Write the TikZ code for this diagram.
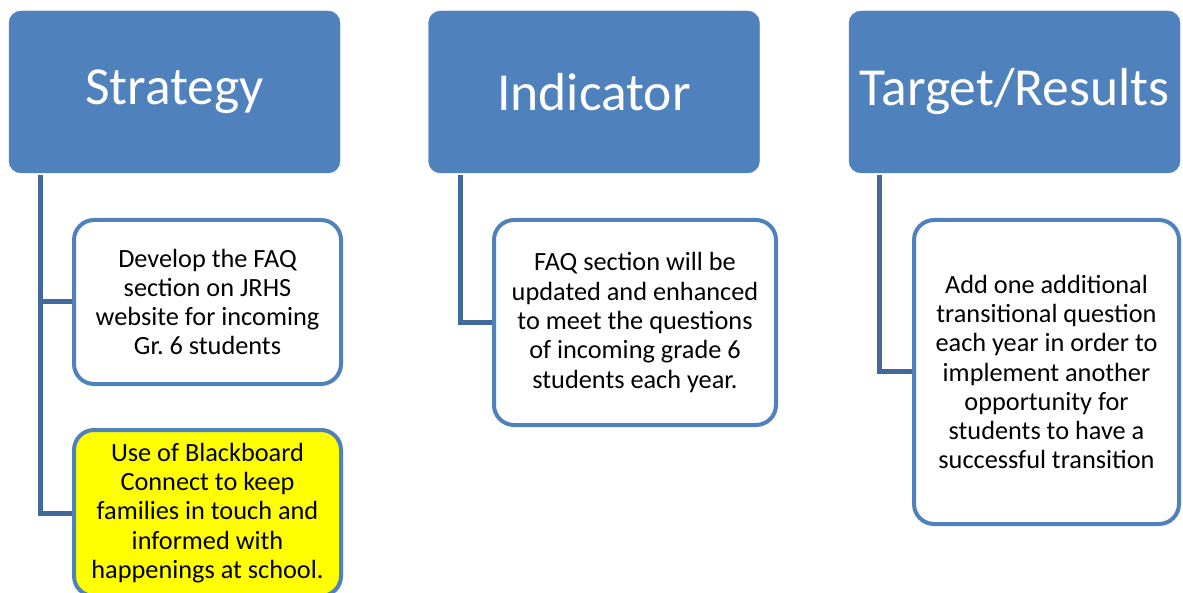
\documentclass[tikz,border=0pt]{standalone}
\usepackage{fontspec}
\setmainfont{Carlito}
\usetikzlibrary{calc}
\frenchspacing
\begin{document}
\begin{tikzpicture}[x=1pt,y=-1pt]
\definecolor{hdr}{HTML}{4F81BD}
\definecolor{connc}{HTML}{41699A}
\definecolor{hl}{HTML}{FFFF00}
\tikzset{
 header/.style={draw=hdr, fill=hdr, rounded corners=12pt, text=white,
   font=\fontsize{53.5}{60}\selectfont, minimum width=331pt, minimum height=162pt, inner sep=0pt},
 child/.style={draw=hdr, line width=4pt, fill=white, rounded corners=20pt, align=center,
   font=\fontsize{26.3}{29.3}\selectfont, inner sep=0pt},
 connline/.style={draw=connc, line width=5pt}
}
\useasboundingbox (0,0) rectangle (1183,593);
\node[header] (h1) at (174.5,92) {Strategy};
\node[header] (h2) at (594,92) {Indicator};
\node[header] (h3) at (1014.5,92) {Target/Results};

\draw[connline] ([xshift=32pt,yshift=-2pt]h1.south west) |- (207,302);
\draw[connline] ([xshift=32pt,yshift=-2pt]h1.south west) |- (207,513);
\draw[connline] ([xshift=32pt,yshift=-2pt]h2.south west) |- (635,322.5);
\draw[connline] ([xshift=31pt,yshift=-2pt]h3.south west) |- (1046,372);

\node[child, minimum width=267pt, minimum height=164pt] (c1) at (207.5,302)
  {Develop the FAQ\\section on JRHS\\website for incoming\\Gr.\ 6 students};
\node[child, fill=hl, minimum width=267pt, minimum height=166pt] (c2) at (207.5,513)
  {Use of Blackboard\\Connect to keep\\families in touch and\\informed with\\happenings at school.};
\node[child, minimum width=282pt, minimum height=205pt] (c3) at (635,322.5)
  {FAQ section will be\\updated and enhanced\\to meet the questions\\of incoming grade 6\\students each year.};
\node[child, minimum width=265pt, minimum height=304pt] (c4) at (1046.5,372)
  {Add one additional\\transitional question\\each year in order to\\implement another\\opportunity for\\students to have a\\successful transition};
\end{tikzpicture}
\end{document}
